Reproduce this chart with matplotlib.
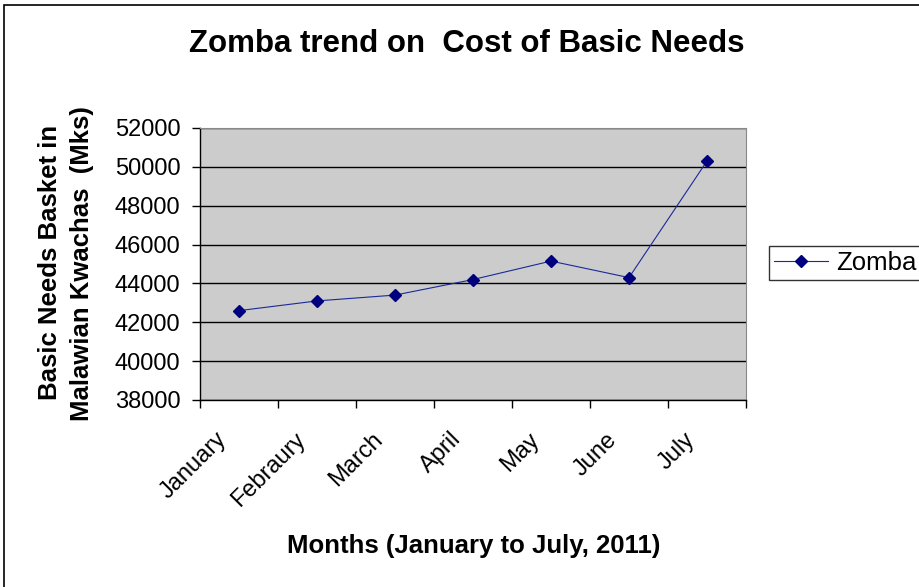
import matplotlib
matplotlib.use("Agg")
import matplotlib.pyplot as plt
from matplotlib.patches import Rectangle
from matplotlib.lines import Line2D
from matplotlib.transforms import ScaledTranslation

plt.rcParams['font.family'] = ['Liberation Sans', 'DejaVu Sans']

# Cost of the basic needs basket, Zomba, Jan-Jul 2011 (Mks)
months = ['January', 'Febraury', 'March', 'April', 'May', 'June', 'July']
zomba_cost = [42600, 43100, 43400, 44200, 45150, 44300, 50300]
y_ticks = [38000, 40000, 42000, 44000, 46000, 48000, 50000, 52000]

fig = plt.figure(figsize=(9.2, 5.87), dpi=100)
ax = fig.add_axes([200 / 920, 1 - 400 / 587, 546 / 920, 272 / 587])

# outer chart border
fig.patches.append(Rectangle((4 / 920, -0.05), 1.1, 1 - 5 / 587 + 0.05,
                             transform=fig.transFigure, fill=False,
                             edgecolor='black', linewidth=1.2))

ax.set_facecolor('#CCCCCC')
x = [i + 0.5 for i in range(len(months))]
ax.plot(x, zomba_cost, color='#1a2a9a', linewidth=0.8, marker='D',
        markersize=6.5, markerfacecolor='#00007F', markeredgecolor='#00007F',
        zorder=3)

ax.set_xlim(0, len(months))
ax.set_ylim(y_ticks[0], y_ticks[-1])
ax.set_yticks(y_ticks)
ax.set_yticklabels([str(v) for v in y_ticks], fontsize=17)
ax.yaxis.grid(True, color='black', linewidth=1)
ax.set_axisbelow(True)

# category boundaries carry the ticks, names sit at the centres
ax.set_xticks(range(len(months) + 1))
ax.set_xticklabels([])
label_shift = ScaledTranslation(-11 / 72, -26 / 72, fig.dpi_scale_trans)
for xi, name in zip(x, months):
    ax.text(xi, y_ticks[0], name, transform=ax.transData + label_shift,
            fontsize=17, rotation=45, rotation_mode='anchor',
            ha='right', va='center')

ax.tick_params(axis='both', direction='out', length=5.5, width=1, color='black')
ax.tick_params(axis='y', pad=8.5)
for side in ['top', 'right']:
    ax.spines[side].set_color('#888888')
for side in ['left', 'bottom']:
    ax.spines[side].set_color('black')
    ax.spines[side].set_linewidth(1)

fig.text(467 / 920, 1 - 44 / 587, 'Zomba trend on  Cost of Basic Needs',
         ha='center', va='center', fontsize=22.5, fontweight='bold')
fig.text(50 / 920, 1 - 262 / 587, 'Basic Needs Basket in',
         rotation=90, ha='center', va='center', fontsize=18.5, fontweight='bold')
fig.text(82 / 920, 1 - 264 / 587, 'Malawian Kwachas  (Mks)',
         rotation=90, ha='center', va='center', fontsize=18.5, fontweight='bold')
fig.text(474 / 920, 1 - 546 / 587, 'Months (January to July, 2011)',
         ha='center', va='center', fontsize=18.5, fontweight='bold')

handle = Line2D([], [], color='#1a2a9a', linewidth=0.8, marker='D',
                markersize=6.5, markerfacecolor='#00007F',
                markeredgecolor='#00007F')
leg = fig.legend([handle], ['Zomba'], loc='center left',
                 bbox_to_anchor=(769 / 920, 1 - 263 / 587), fontsize=18.5,
                 frameon=True, fancybox=False, edgecolor='black',
                 handlelength=2.1, handletextpad=0.3, borderpad=0.2,
                 borderaxespad=0)
leg.get_frame().set_linewidth(1)

fig.savefig('out.png', dpi=100)
